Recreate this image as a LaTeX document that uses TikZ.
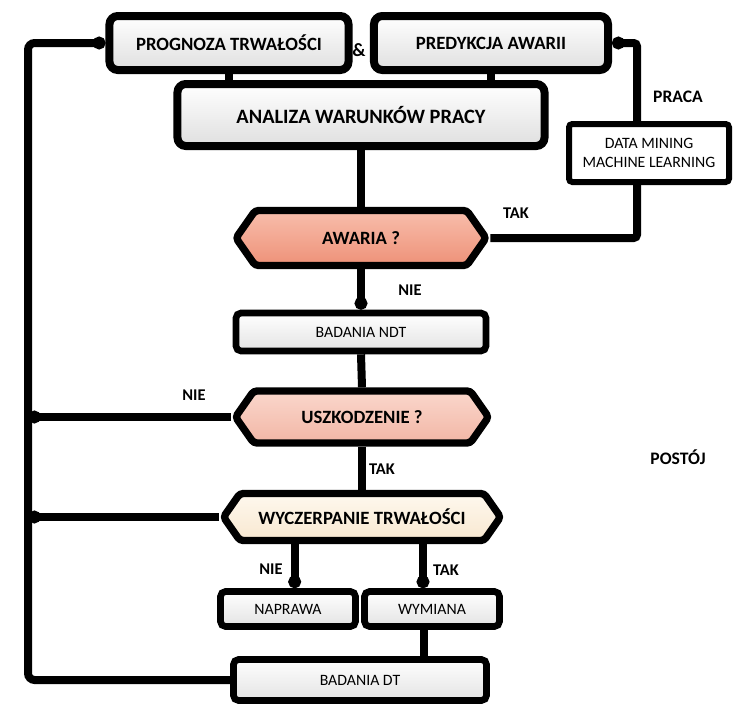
\documentclass[tikz,border=0pt]{standalone}
\usepackage{fontspec}
\setmainfont{Carlito}
\usetikzlibrary{shapes.symbols,arrows.meta}
\definecolor{awariaTop}{RGB}{248,190,172}
\definecolor{awariaBot}{RGB}{238,145,120}
\definecolor{uszTop}{RGB}{250,215,204}
\definecolor{uszBot}{RGB}{242,182,165}
\definecolor{wyczTop}{RGB}{254,248,238}
\definecolor{wyczBot}{RGB}{248,232,208}

\begin{document}
\begin{tikzpicture}[x=0.03cm,y=-0.03cm,
    box/.style={draw=black,line width=2.4mm,rounded corners=2.5mm,top color=white,bottom color=gray!25,
      font=\bfseries\fontsize{16}{19}\selectfont,inner sep=0pt},
    flat/.style={draw=black,line width=2mm,rounded corners=1.5mm,top color=white,bottom color=gray!22,
      font=\fontsize{13.5}{16.5}\selectfont,inner sep=0pt,minimum width=4.05cm,minimum height=1.05cm},
    hex/.style={shape=signal,signal to=west and east,signal pointer angle=110,draw=black,line width=2.2mm,
      rounded corners=1mm,font=\bfseries\fontsize{16}{19}\selectfont,inner sep=0pt},
    lab/.style={font=\bfseries\fontsize{14}{17}\selectfont},
    wire/.style={line width=2.4mm},
    dot/.style={-{Circle[length=3.8mm,width=3.8mm]}}]
  \useasboundingbox (0,0) rectangle (749,724);

  \node[box,minimum width=7.17cm,minimum height=1.62cm] (prog) at (229,43) {PROGNOZA TRWAŁOŚCI};
  \node[box,minimum width=7.02cm,minimum height=1.62cm] (pred) at (491,43) {PREDYKCJA AWARII};
  \node[box,minimum width=11.01cm,minimum height=1.86cm,font=\bfseries\fontsize{17.4}{20}\selectfont] (anal) at (361,115) {ANALIZA WARUNKÓW PRACY};
  \node[lab,font=\bfseries\fontsize{16}{19}\selectfont] (amp) at (359,50) {\&};

  \node[flat,draw,line width=1.8mm,rounded corners=1mm,fill=white,top color=white,bottom color=white,
    minimum width=4.8cm,minimum height=1.74cm,align=center] (dm) at (649,153) {DATA MINING\\MACHINE LEARNING};
  \node[lab,font=\bfseries\fontsize{15}{18}\selectfont] (praca) at (678,97) {PRACA};
  \node[lab,font=\bfseries\fontsize{15}{18}\selectfont] (postoj) at (678,457) {POSTÓJ};

  \node[hex,top color=awariaTop,bottom color=awariaBot,minimum width=7.5cm,minimum height=1.65cm] (awaria) at (361,238) {AWARIA ?};
  \node[flat,minimum width=7.5cm,minimum height=1.14cm] (ndt) at (361,332) {BADANIA NDT};
  \node[hex,top color=uszTop,bottom color=uszBot,minimum width=7.59cm,minimum height=1.56cm] (usz) at (362,417) {USZKODZENIE ?};
  \node[hex,top color=wyczTop,bottom color=wyczBot,minimum width=8.31cm,minimum height=1.41cm] (wycz) at (362,517) {WYCZERPANIE TRWAŁOŚCI};
  \node[flat] (napr) at (288,609) {NAPRAWA};
  \node[flat] (wym) at (432,609) {WYMIANA};
  \node[flat,minimum width=7.59cm,minimum height=1.23cm] (dt) at (360,680) {BADANIA DT};

  \node[lab] (tak1) at (516,213) {TAK};
  \node[lab] (nie1) at (410,290) {NIE};
  \node[lab] (nie2) at (194,395) {NIE};
  \node[lab] (tak2) at (382,469) {TAK};
  \node[lab] (nie3) at (271,569) {NIE};
  \node[lab] (tak3) at (446,570) {TAK};

  \coordinate (prawy) at (637,43);
  \coordinate (lewy) at (28,43);

  \draw[wire] (prog.south) -- (prog.south |- anal.north);
  \draw[wire] (pred.south) -- (pred.south |- anal.north);
  \draw[wire] (anal.south) -- (awaria.north);
  \draw[wire,rounded corners=1mm] (awaria.east) -| (dm.south -| prawy);
  \draw[wire,dot,rounded corners=1mm] (dm.north -| prawy) |- (pred.east);
  \draw[wire,dot] (awaria.south) -- (ndt.north);
  \draw[wire] (ndt.south) -- (usz.north);
  \draw[wire] (usz.south) -- (wycz.north);
  \draw[wire,dot] (usz.west) -- (usz.west -| lewy);
  \draw[wire,dot] (wycz.west) -- (wycz.west -| lewy);
  \draw[wire,dot] ([xshift=0.2cm]napr.north |- wycz.south) -- ([xshift=0.2cm]napr.north);
  \draw[wire,dot] ([xshift=-0.27cm]wym.north |- wycz.south) -- ([xshift=-0.27cm]wym.north);
  \draw[wire] ([xshift=-0.24cm]wym.south) -- ([xshift=-0.24cm]wym.south |- dt.north);
  \draw[wire,dot,rounded corners=2mm] (dt.west) -| (lewy) -- (prog.west);
\end{tikzpicture}
\end{document}
